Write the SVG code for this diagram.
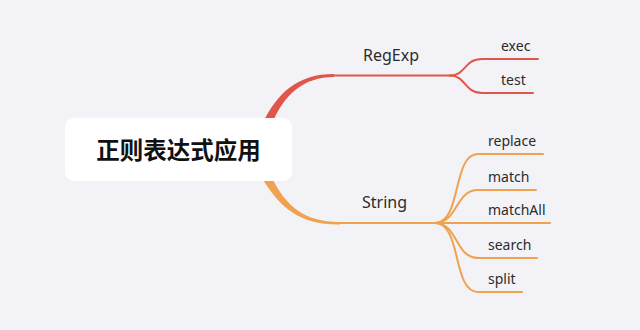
<svg xmlns="http://www.w3.org/2000/svg" width="640" height="330" viewBox="0 0 640 330">
<style>
.lbl{font-family:"Noto Sans","Liberation Sans",sans-serif;fill:#2b2b2b}
.main{font-size:16px}
.sub{font-size:14px}
.red{fill:none;stroke:#e0564b;stroke-width:2;stroke-linecap:round}
.org{fill:none;stroke:#efa24f;stroke-width:2;stroke-linecap:round}
</style>
<rect width="640" height="330" fill="#f3f3f7"/>
<g id="connectors">
<path d="M262,124 C278,92 298,74 334,74 L334,77 C304,77 284,94 272,124 Z" fill="#e0564b"/>
<path class="red" d="M332,75.5 H450"/>
<path class="red" d="M450,75.5 C466,75.5 464,59 482,59 H538"/>
<path class="red" d="M450,75.5 C466,75.5 464,93 482,93 H533"/>
<path d="M262,178 C280,208 300,225 340,224.5 L340,222 C304,222 286,206 272,178 Z" fill="#efa24f"/>
<path class="org" d="M338,223 H435"/>
<path class="org" d="M435,223 C462,223 452,154 478,154 H543"/>
<path class="org" d="M435,223 C458,223 455,190 478,190 H536"/>
<path class="org" d="M435,223 H550"/>
<path class="org" d="M435,223 C458,223 455,258 478,258 H537"/>
<path class="org" d="M435,223 C462,223 452,292 478,292 H522"/>
</g>
<g id="root">
<rect x="65" y="118" width="227" height="63" rx="9" fill="#ffffff"/>
<text x="178.5" y="158.5" text-anchor="middle" font-family="'Noto Sans CJK SC',sans-serif" font-size="23.5" font-weight="bold" fill="#111">正则表达式应用</text>
</g>
<g id="regexp"><text class="lbl main" x="363" y="61">RegExp</text></g>
<g id="exec"><text class="lbl sub" x="501" y="51">exec</text></g>
<g id="test"><text class="lbl sub" x="501" y="85">test</text></g>
<g id="string"><text class="lbl main" x="362" y="208">String</text></g>
<g id="replace"><text class="lbl sub" x="488" y="146">replace</text></g>
<g id="match"><text class="lbl sub" x="488" y="182">match</text></g>
<g id="matchAll"><text class="lbl sub" x="488" y="215">matchAll</text></g>
<g id="search"><text class="lbl sub" x="488" y="250">search</text></g>
<g id="split"><text class="lbl sub" x="488" y="284">split</text></g>
</svg>
